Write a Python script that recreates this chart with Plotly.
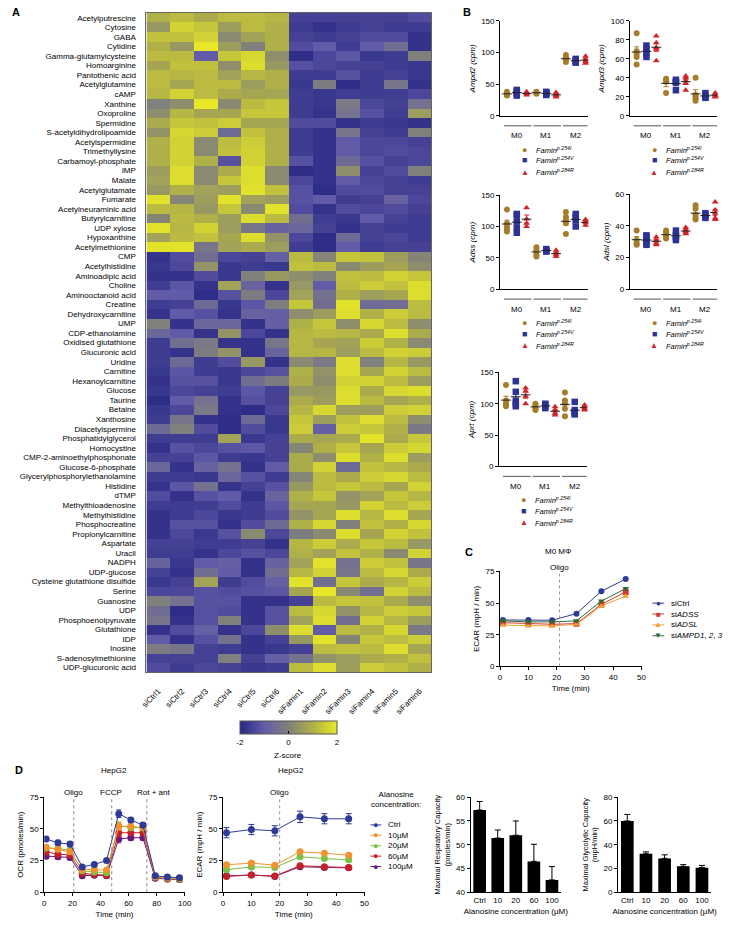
import numpy as np
import plotly.graph_objects as go

W, H = 734, 925
FONT = "Liberation Sans, Arial, sans-serif"


def px(x):
    return x / W


def py(y):
    return 1 - y / H


# ---------------- Panel A data ----------------
metabolites = [
    "Acetylputrescine", "Cytosine", "GABA", "Cytidine", "Gamma-glutamylcysteine",
    "Homoarginine", "Pantothenic acid", "Acetylglutamine", "cAMP", "Xanthine",
    "Oxoproline", "Spermidine", "S-acetyldihydrolipoamide", "Acetylspermidine",
    "Trimethyllysine", "Carbamoyl-phosphate", "IMP", "Malate", "Acetylglutamate",
    "Fumarate", "Acetylneuraminic acid", "Butyrylcarnitine", "UDP xylose",
    "Hypoxanthine", "Acetylmethionine", "CMP", "Acetylhistidine", "Aminoadipic acid",
    "Choline", "Aminooctanoid acid", "Creatine", "Dehydroxycarnitine", "UMP",
    "CDP-ethanolamine", "Oxidised glutathione", "Glucuronic acid", "Uridine",
    "Carnitine", "Hexanoylcarnitine", "Glucose", "Taurine", "Betaine", "Xanthosine",
    "Diacetylspermine", "Phosphatidylglycerol", "Homocystine",
    "CMP-2-aminoethylphosphonate", "Glucose-6-phosphate",
    "Glycerylphosphorylethanolamine", "Histidine", "dTMP", "Methylthioadenosine",
    "Methylhistidine", "Phosphocreatine", "Propionylcarnitine", "Aspartate", "Uracil",
    "NADPH", "UDP-glucose", "Cysteine glutathione disulfide", "Serine", "Guanosine",
    "UDP", "Phosphoenolpyruvate", "Glutathione", "IDP", "Inosine",
    "S-adenosylmethionine", "UDP-glucuronic acid",
]
samples = ["siCtrl1", "siCtrl2", "siCtrl3", "siCtrl4", "siCtrl5", "siCtrl6",
           "siFamin1", "siFamin2", "siFamin3", "siFamin4", "siFamin5", "siFamin6"]

z_ctrl = [
    [1.0, 1.2, 0.9, 1.2, 1.2, 1.1], [0.5, 1.6, 1.4, 0.6, 1.2, 1.0],
    [1.3, 1.3, 1.6, 0.2, 0.7, 1.0], [1.0, 0.5, 2.0, 0.6, 0.0, 1.0],
    [1.2, 1.2, -1.0, 1.4, 1.7, 0.3], [0.8, 1.3, 1.3, 0.3, 1.8, 0.5],
    [1.2, 1.1, 1.2, 0.7, 1.1, 1.0], [1.2, 0.8, 1.2, 1.2, 0.6, 1.0],
    [1.1, 1.6, 1.2, 0.9, 0.8, 0.8], [0.0, 0.3, 2.0, 0.2, 1.2, 1.4],
    [0.3, 1.1, 0.8, 0.8, 1.4, 1.4], [0.9, 1.4, 1.3, 1.5, 0.8, 0.8],
    [0.4, 1.7, 1.5, -0.6, 1.3, 1.0], [1.0, 1.6, 0.2, 1.2, 1.5, 1.0],
    [1.0, 1.6, 0.2, 1.3, 1.6, 1.0], [1.0, 1.6, 1.0, -1.2, 1.6, 1.0],
    [0.6, 1.8, 0.2, 0.9, 1.8, 0.2], [0.7, 1.8, 0.2, 1.4, 1.8, 0.2],
    [0.5, 1.0, 0.7, 0.6, 1.9, 1.3], [1.9, 0.1, 0.6, 1.9, 0.7, 0.6],
    [1.2, 1.1, 0.5, 1.4, 0.2, 1.9], [0.1, 1.2, 1.0, 0.6, 1.8, 1.2],
    [1.9, 1.1, 1.6, 0.6, -0.3, -0.8], [0.7, 1.2, 1.3, 0.8, 1.8, 0.4],
    [1.9, 1.9, -0.3, 0.7, 0.9, 0.6],
    [-1.8, -1.3, -0.5, -1.4, -1.5, -0.9], [-1.7, -1.4, 0.4, -1.7, -1.6, -1.7],
    [-1.8, -1.8, -1.3, -1.7, 0.0, 0.5], [-1.6, -1.1, -1.8, 0.7, -0.8, -1.8],
    [-1.0, -1.0, -1.9, -1.2, -0.1, -1.4], [-1.6, -1.5, -0.6, -1.7, -1.1, -0.1],
    [-1.8, -1.0, -1.2, -1.8, -0.8, -0.9], [0.0, -1.8, -0.7, -0.7, -1.8, -0.9],
    [-0.7, -1.0, -1.8, 0.4, -1.4, -1.8], [-1.6, -0.5, -0.2, -1.8, -1.8, -0.3],
    [-1.6, -1.8, -0.1, 0.4, -1.8, -0.8], [-1.6, -0.6, -1.6, -1.3, 0.5, -1.8],
    [-1.7, -1.1, -1.6, -1.7, -1.4, -1.2], [-1.8, -1.2, -1.2, -1.7, -0.5, -0.1],
    [-1.7, -1.4, -1.5, -1.6, -1.1, -1.5], [-1.9, -1.0, -0.4, -1.8, -1.2, -1.5],
    [-1.7, -1.4, -0.2, -1.8, -1.9, -1.4], [-1.6, -0.3, -1.8, -1.9, -0.6, -1.7],
    [-0.6, 0.0, -1.3, -1.9, -1.3, -1.7], [-1.6, -1.6, -1.6, 0.7, -1.7, -1.5],
    [-1.8, -1.2, -1.4, -1.2, -1.1, -1.5], [-1.5, -1.5, -1.1, -1.6, -1.7, -1.5],
    [-0.7, -1.8, -0.8, -0.4, -1.8, -1.0], [-1.6, -1.6, -1.7, -0.7, -1.2, -1.6],
    [-1.8, -1.1, -0.4, -1.8, -1.5, -1.2], [-1.3, -1.8, -1.2, -1.0, -1.8, -0.8],
    [-1.6, -1.6, -1.6, -1.3, -1.6, -1.1], [-1.8, -1.6, -1.4, -1.7, -1.6, -1.3],
    [-1.8, -1.2, -1.2, -1.8, -1.3, -0.6], [-1.8, -1.4, -1.7, -1.2, 0.2, -1.4],
    [-1.5, -1.5, -1.6, -1.6, -1.5, -1.8], [-1.6, -1.6, -1.8, -1.4, -1.2, -1.4],
    [-0.8, -1.7, -1.0, -0.9, -1.8, -0.8], [-1.5, -1.8, -0.5, -1.0, -1.8, -0.5],
    [-1.7, -1.5, 0.7, -1.6, -1.3, -0.9], [-1.4, -1.4, -1.2, -1.3, -1.2, -1.1],
    [0.0, -0.4, -1.2, -1.2, -1.8, -1.8], [-0.5, -1.9, -1.2, -1.3, -1.8, -1.2],
    [-0.3, -1.8, -1.2, 0.0, -1.8, -1.2], [-1.8, -1.3, -0.9, -1.8, -1.4, 0.3],
    [-1.0, -1.8, -1.2, -0.4, -1.8, -1.5], [-0.1, -0.3, -1.5, -1.6, -1.8, -1.7],
    [-1.5, -1.5, -1.5, 0.0, -1.5, -0.9], [-1.3, -1.6, -1.4, -1.5, -1.7, -1.6],
]

z_famin = [
    [-1.5, -1.5, -1.5, -1.5, -1.5, -1.3], [-1.6, -1.8, -1.6, -1.5, -1.6, -1.6],
    [-1.5, -1.6, -1.5, -1.3, -1.3, -1.8], [-1.3, -1.0, -1.6, -1.0, -0.5, -1.8],
    [-1.9, -1.4, -1.1, -1.7, -1.6, 0.0], [-1.2, -1.4, -1.5, -1.5, -1.6, -1.7],
    [-1.6, -1.6, -1.2, -1.6, -1.5, -1.7], [-1.7, -0.1, -1.9, -1.6, -0.3, -1.8],
    [-1.6, -1.7, -1.6, -1.6, -1.6, -1.4], [-1.6, -1.7, -0.2, -1.4, -1.5, -0.4],
    [-1.6, -1.8, -0.4, -1.2, -1.6, 0.6], [-1.3, -1.3, -1.8, -1.6, -1.7, -1.8],
    [-1.6, -1.8, -0.3, -1.5, -1.6, 0.0], [-1.6, -1.8, -1.0, -1.4, -1.4, -1.5],
    [-1.6, -1.8, -1.0, -1.4, -1.3, -1.4], [-1.2, -1.8, -0.6, -1.2, -1.5, -1.4],
    [-1.9, -1.8, 0.3, -1.5, -1.3, 0.0], [-1.4, -1.8, -1.0, -1.4, -1.5, -1.6],
    [-1.2, -1.9, -1.3, -1.3, -1.5, -1.5], [-1.2, -1.0, -1.6, -1.5, -0.8, -1.4],
    [-1.3, -1.8, -1.3, -1.4, -1.3, -1.5], [-0.5, -1.6, -1.7, -1.0, -1.5, -1.6],
    [-0.7, -1.5, -1.8, -1.5, -1.6, -1.6], [-1.4, -1.9, -0.6, -1.5, -1.4, -1.6],
    [-1.6, -1.9, -1.0, -1.6, -1.5, -1.5],
    [1.2, 0.1, 1.4, 1.3, 0.6, 0.1], [1.3, 1.2, 0.2, 0.6, 0.8, 0.3],
    [0.3, 0.0, 1.3, 1.2, 1.6, 1.4], [0.5, -1.0, 1.2, 1.5, 1.3, 1.8],
    [0.7, -0.4, 1.0, 0.6, 0.8, 1.8], [1.4, -0.5, 1.9, -0.6, -0.5, 1.2],
    [0.3, 0.6, 1.8, 1.0, 1.5, 1.2], [1.0, 1.4, 0.3, 1.7, 1.2, 0.3],
    [1.1, 1.2, 1.1, 0.9, 1.8, 0.9], [1.1, 0.8, 0.7, 1.5, 1.0, 0.2],
    [1.1, 1.1, 0.6, 1.2, 1.6, 1.5], [0.2, -0.2, 1.8, 0.0, 1.1, 0.5],
    [1.0, 0.4, 1.8, 0.8, 1.6, 1.2], [0.9, 0.3, 1.6, 1.6, 1.2, 0.6],
    [0.5, 0.5, 1.8, 0.9, 1.7, 1.8], [0.9, 0.6, 1.8, 1.2, 0.8, 1.0],
    [1.1, 1.7, 0.6, 0.6, 1.5, 1.6], [1.4, 0.6, 1.3, 1.8, 1.2, 0.3],
    [1.5, -0.9, 1.5, 1.4, 1.0, -0.2], [0.9, 0.8, 0.9, 1.9, 0.9, 1.4],
    [0.1, 1.0, 1.4, 0.8, 1.5, 1.7], [0.9, 0.3, 1.8, 1.0, 1.8, 0.6],
    [0.9, 1.6, -0.6, 1.3, 1.1, 0.9], [0.1, 1.2, 0.9, 1.5, 1.7, 1.2],
    [0.5, 1.2, 1.4, 1.2, 0.8, 1.6], [1.0, 1.4, 0.4, 0.7, 1.4, 1.1],
    [0.8, 0.8, 0.5, 1.6, 1.2, 1.5], [0.4, 0.8, 1.8, 1.1, 1.8, 0.8],
    [1.0, 1.7, 0.0, 1.3, 1.0, 1.7], [-0.1, 0.2, 1.8, 0.8, 1.6, 1.3],
    [1.1, 1.5, 0.9, 1.4, 1.2, 0.5], [1.0, 0.7, 1.3, 1.0, 0.2, 1.6],
    [0.7, 1.9, -0.4, 1.5, 1.3, -0.3], [1.1, 1.6, -0.3, 1.2, 1.7, 0.9],
    [1.9, -0.5, 1.4, 0.9, 1.1, 1.5], [0.8, 2.0, 0.2, -0.5, 1.6, 1.2],
    [-1.5, 1.2, 1.4, 1.3, 0.9, 0.3], [1.2, 1.7, 0.4, 1.1, 1.5, 1.4],
    [0.7, 1.8, -0.5, 1.6, 1.1, 0.6], [1.8, -1.0, 1.2, 1.0, 1.7, -0.2],
    [0.5, 1.9, 0.1, 1.4, 1.2, 1.5], [-1.5, 1.2, 1.3, 1.2, 1.8, 0.8],
    [-0.4, 0.4, 0.6, 0.9, 1.0, 1.3], [1.2, 1.8, 0.6, 1.5, 1.3, 1.0],
]

# ---------------- Panel B data (cpm; per group M0, M1, M2) ----------------
groups = ["M0", "M1", "M2"]
genotype_labels = ["p.254I", "p.254V", "p.284R"]

ampd2_254I = [[38, 36, 35, 33, 32], [38, 37, 36, 35], [96, 92, 90, 88, 85]]
ampd2_254V = [[41, 39, 37, 35, 32], [38, 36, 35, 33], [90, 88, 86, 84]]
ampd2_284R = [[38, 36, 35, 33], [37, 34, 32, 30], [94, 89, 86, 83]]

ampd3_254I = [[87, 68, 65, 62, 54], [39, 38, 36, 24], [40, 22, 20, 18, 16]]
ampd3_254V = [[74, 70, 66, 62], [38, 36, 35, 27], [24, 21, 20, 19]]
ampd3_284R = [[84, 77, 72, 70, 58], [42, 40, 37, 34, 27], [24, 22, 21, 20]]

adss_254I = [[127, 105, 100, 96, 92], [67, 63, 60, 55, 52], [123, 115, 110, 105, 88]]
adss_254V = [[120, 118, 108, 98, 90], [64, 62, 61, 60], [120, 115, 110, 100]]
adss_284R = [[130, 112, 105, 100], [62, 58, 55, 52], [111, 108, 106, 102]]

adsl_254I = [[37, 31, 29, 28], [37, 36, 34, 33, 32], [53, 51, 47, 45, 44]]
adsl_254V = [[34, 33, 31, 29, 28], [37, 34, 33, 31], [48, 47, 46, 45]]
adsl_284R = [[33, 31, 29, 28], [39, 37, 36, 35], [55, 50, 48, 45, 44]]

aprt_254I = [[130, 105, 100, 98, 96], [100, 98, 95, 92, 90], [118, 105, 100, 92, 80]]
aprt_254V = [[136, 119, 105, 100, 96], [100, 98, 95, 93], [103, 90, 87, 85, 83]]
aprt_284R = [[125, 120, 112, 100], [95, 90, 85, 82], [98, 95, 92, 90]]

# ---------------- Panel C data ----------------
time_c = [1.0, 10.0, 18.4, 27.0, 35.8, 44.4]
c_siCtrl = [36.7, 36.7, 36.5, 41.7, 59.4, 69.0]
c_siADSS = [34.6, 33.8, 33.3, 33.8, 49.0, 58.8]
c_siADSL = [32.6, 32.0, 32.0, 33.3, 47.7, 55.5]
c_siAMPD = [36.0, 35.2, 35.2, 36.0, 51.6, 61.5]

# ---------------- Panel D data ----------------
conc_names = ["Ctrl", "10µM", "20µM", "60µM", "100µM"]
time_ocr = [1.3, 9.7, 18.3, 27.0, 35.6, 44.3, 53.0, 61.6, 70.2, 79.0, 87.6, 96.2]
ocr_ctrl = [42, 39, 38, 20, 22, 25, 62, 57, 53, 13, 12, 11.5]
ocr_10 = [35.5, 34, 32, 18, 18, 17.5, 52, 52, 51, 12.5, 11.5, 11]
ocr_20 = [35, 34.5, 33, 17, 16, 15.5, 52.5, 51, 51, 12, 11, 10.5]
ocr_60 = [32, 30, 29.5, 15, 14, 13.5, 47, 47, 47, 11.5, 10.5, 10]
ocr_100 = [28.5, 28, 27.5, 13, 13.5, 13, 42, 43, 43, 11, 10.5, 10]
ocr_err = [2, 2, 2, 1.5, 1.5, 1.5, 3, 2, 2, 1.5, 1.5, 1.5]

time_ecar = [1.2, 10.0, 18.3, 27.2, 35.8, 44.4]
ecar_ctrl = [47, 49.5, 48.5, 59.5, 58, 58]
ecar_ctrl_err = [4, 4, 4, 4.5, 4, 4]
ecar_10 = [21.7, 23, 21.4, 31.9, 30.8, 29.2]
ecar_20 = [17.8, 20, 19.6, 28, 26.6, 25.6]
ecar_60 = [12.5, 13.6, 12.8, 21, 20.1, 19.6]
ecar_100 = [13, 13.6, 12.5, 20.1, 19.6, 19.3]
ecar_err = [1, 1, 1, 1, 1, 1]

conc_labels = ["Ctrl", "10", "20", "60", "100"]
mrc_vals = [57.3, 51.4, 52.0, 46.5, 42.6]
mrc_err = [1.8, 1.7, 3.0, 3.6, 2.8]
mgc_vals = [60.0, 32.4, 28.5, 21.8, 20.7]
mgc_err = [5.5, 1.6, 3.0, 1.5, 1.9]

# ---------------- styles ----------------
BROWN = "#A67C2A"
NAVY = "#2D3296"
RED = "#D22328"
geno_colors = [BROWN, NAVY, RED]
geno_symbols = ["circle", "square", "triangle-up"]
geno_glyphs = ["●", "■", "▲"]

C_COLORS = ["#2E3A97", "#D03A2F", "#F0A030", "#2E6B35"]
C_SYMBOLS = ["circle", "square", "triangle-up", "triangle-down"]
C_GLYPHS = ["●", "■", "▲", "▼"]
D_COLORS = ["#2E3A97", "#F0922E", "#7AC043", "#C8202A", "#6A1B7A"]

fig = go.Figure()
annotations = []
shapes = []


def ax_style(**kw):
    base = dict(showline=True, linecolor="black", linewidth=1, ticks="outside",
                ticklen=3, tickwidth=1, tickcolor="black", showgrid=False,
                zeroline=False, fixedrange=True,
                tickfont=dict(size=8, family=FONT, color="black"),
                title=dict(font=dict(size=8, family=FONT, color="black")))
    for k, v in kw.items():
        if k == "title":
            base["title"] = dict(text=v, font=dict(size=8, family=FONT, color="black"),
                                 standoff=4)
        else:
            base[k] = v
    return base


def text(x, y, s, size=8, xanchor="center", yanchor="middle", color="black", **kw):
    annotations.append(dict(x=px(x), y=py(y), xref="paper", yref="paper", text=s,
                            showarrow=False, xanchor=xanchor, yanchor=yanchor,
                            font=dict(size=size, family=FONT, color=color), **kw))


def data_text(xref, x, y, s, size=8):
    annotations.append(dict(x=x, y=py(y), xref=xref, yref="paper", text=s,
                            showarrow=False, xanchor="center", yanchor="middle",
                            font=dict(size=size, family=FONT, color="black")))


layout = dict(width=W, height=H, margin=dict(l=0, r=0, t=0, b=0),
              paper_bgcolor="white", plot_bgcolor="white", showlegend=False,
              font=dict(family=FONT, size=8, color="black"))

# ---------------- Panel A: heatmap ----------------
Z = [rc + rf for rc, rf in zip(z_ctrl, z_famin)]
colorscale = [[0.0, "rgb(40,40,132)"], [0.25, "rgb(98,92,168)"],
              [0.5, "rgb(128,128,124)"], [0.75, "rgb(176,176,72)"],
              [1.0, "rgb(232,232,40)"]]
fig.add_trace(go.Heatmap(
    z=Z, x=samples, y=metabolites, colorscale=colorscale, zmin=-2, zmax=2,
    xaxis="x", yaxis="y", hoverinfo="skip",
    colorbar=dict(orientation="h", x=px(287.5), xanchor="center", y=py(724),
                  yanchor="top", len=97, lenmode="pixels", thickness=13,
                  thicknessmode="pixels", xpad=0, ypad=0, tickvals=[-2, 0, 2],
                  ticktext=["-2", "0", "2"], ticks="inside", ticklen=3,
                  tickcolor="black", outlinecolor="#555", outlinewidth=1,
                  tickfont=dict(size=8, family=FONT, color="black")),
))
for tx in [263.25, 311.75]:
    shapes.append(dict(type="line", xref="paper", yref="paper", x0=px(tx), x1=px(tx),
                       y0=py(724), y1=py(727.5), line=dict(color="black", width=1)))
text(287.5, 759, "Z-score", size=8)
layout["xaxis"] = dict(domain=[px(143), px(433)], anchor="y", tickangle=-45,
                       tickmode="linear", dtick=1,
                       tickfont=dict(size=8, family=FONT, color="black"),
                       showline=True, mirror=True, linecolor="#666", linewidth=1,
                       ticks="", ticklabelstandoff=10, fixedrange=True)
layout["yaxis"] = dict(domain=[py(675), py(9)], anchor="x", autorange="reversed",
                       tickmode="linear", dtick=1,
                       tickfont=dict(size=8, family=FONT, color="black"),
                       showline=True, mirror=True, linecolor="#666", linewidth=1,
                       ticks="", ticklabelstandoff=8, fixedrange=True)
text(4, 8, "<b>A</b>", size=11, xanchor="left")

# ---------------- Panel B: scatter dot plots ----------------
b_panels = [
    (2, "Ampd2", [ampd2_254I, ampd2_254V, ampd2_284R], 503, 592, 17, 113, 150, 50),
    (3, "Ampd3", [ampd3_254I, ampd3_254V, ampd3_284R], 635, 724, 17, 113, 100, 20),
    (4, "Adss", [adss_254I, adss_254V, adss_284R], 503, 592, 193, 288, 150, 50),
    (5, "Adsl", [adsl_254I, adsl_254V, adsl_284R], 635, 724, 192, 288, 60, 20),
    (6, "Aprt", [aprt_254I, aprt_254V, aprt_284R], 502, 591, 372, 467, 150, 50),
]
for n, gene, series, x0, x1, ytop, ybot, ymax, dtick in b_panels:
    xa, ya = f"x{n}", f"y{n}"
    for k, geno in enumerate(series):
        xs, ys = [], []
        mx, my, mean_pos, mean_val, sem_val = [], [], [], [], []
        for g, pts in enumerate(geno):
            pos = g * 3 + k
            xs += [pos] * len(pts)
            ys += pts
            m = float(np.mean(pts))
            s = float(np.std(pts, ddof=1) / np.sqrt(len(pts)))
            mean_pos.append(pos)
            mean_val.append(m)
            sem_val.append(s)
            mx += [pos - 0.5, pos + 0.5, None]
            my += [m, m, None]
        fig.add_trace(go.Scatter(x=xs, y=ys, mode="markers", xaxis=xa, yaxis=ya,
                                 marker=dict(color=geno_colors[k], symbol=geno_symbols[k],
                                             size=6 if k != 1 else 6.5, line=dict(width=0)),
                                 cliponaxis=False, hoverinfo="skip"))
        fig.add_trace(go.Scatter(x=mean_pos, y=mean_val, mode="markers", xaxis=xa,
                                 yaxis=ya, marker=dict(size=2, opacity=0),
                                 error_y=dict(type="data", array=sem_val,
                                              color=geno_colors[k], thickness=1, width=2.5),
                                 hoverinfo="skip"))
        fig.add_trace(go.Scatter(x=mx, y=my, mode="lines", xaxis=xa, yaxis=ya,
                                 line=dict(color="#222", width=1), hoverinfo="skip"))
    layout[f"xaxis{n}"] = ax_style(domain=[px(x0), px(x1)], anchor=ya, range=[-0.7, 8.2],
                                   showticklabels=False, ticks="")
    layout[f"yaxis{n}"] = ax_style(domain=[py(ybot), py(ytop)], anchor=xa,
                                   range=[0, ymax], dtick=dtick,
                                   title=f"<i>{gene} (cpm)</i>")
    for g, gname in enumerate(groups):
        shapes.append(dict(type="line", xref=xa, yref="paper", x0=g * 3 - 0.3,
                           x1=g * 3 + 2.5, y0=py(ybot + 10), y1=py(ybot + 10),
                           line=dict(color="#555", width=1)))
        data_text(xa, g * 3 + 1, ybot + 20, gname)
    for k, lab in enumerate(genotype_labels):
        yy = ybot + [34, 45, 57][k]
        text(x0 + 25, yy, geno_glyphs[k], size=8 if k == 2 else 9, color=geno_colors[k])
        text(x0 + 35, yy, f"<i>Famin<sup>{lab}</sup></i>", size=7.5, xanchor="left")
text(463, 8, "<b>B</b>", size=11, xanchor="left")

# ---------------- Panel C ----------------
c_series = [("siCtrl", c_siCtrl), ("si<i>ADSS</i>", c_siADSS),
            ("si<i>ADSL</i>", c_siADSL), ("si<i>AMPD1</i>, <i>2</i>, <i>3</i>", c_siAMPD)]
for i, (name, vals) in enumerate(c_series):
    fig.add_trace(go.Scatter(x=time_c, y=vals, mode="lines+markers", xaxis="x7",
                             yaxis="y7", line=dict(color=C_COLORS[i], width=1),
                             marker=dict(color=C_COLORS[i], symbol=C_SYMBOLS[i], size=6),
                             hoverinfo="skip"))
    ly = [605, 616, 627, 638][i]
    shapes.append(dict(type="line", xref="paper", yref="paper", x0=px(658), x1=px(670),
                       y0=py(ly), y1=py(ly), line=dict(color=C_COLORS[i], width=1)))
    text(664, ly, C_GLYPHS[i], size=8, color=C_COLORS[i])
    text(675, ly, name, size=8, xanchor="left")
layout["xaxis7"] = ax_style(domain=[px(503), px(647)], anchor="y7", range=[0, 50],
                            dtick=10, title="Time (min)")
layout["yaxis7"] = ax_style(domain=[py(669), py(573)], anchor="x7", range=[0, 75],
                            dtick=25, title="ECAR (mpH / min)")
shapes.append(dict(type="line", xref="x7", yref="y7", x0=21, x1=21, y0=0, y1=75,
                   line=dict(color="#999", width=1, dash="dot")))
data_text("x7", 21, 569, "Oligo")
text(562, 553, "M0 MΦ", size=8)
text(465, 553, "<b>C</b>", size=11, xanchor="left")

# ---------------- Panel D ----------------
ocr_series = [ocr_ctrl, ocr_10, ocr_20, ocr_60, ocr_100]
ecar_series = [ecar_ctrl, ecar_10, ecar_20, ecar_60, ecar_100]
for i in range(4, -1, -1):
    fig.add_trace(go.Scatter(x=time_ocr, y=ocr_series[i], mode="lines+markers",
                             xaxis="x8", yaxis="y8",
                             line=dict(color=D_COLORS[i], width=1),
                             marker=dict(color=D_COLORS[i], size=7),
                             error_y=dict(type="data", array=ocr_err, color=D_COLORS[i],
                                          thickness=1, width=2.5),
                             hoverinfo="skip"))
    err = ecar_ctrl_err if i == 0 else ecar_err
    fig.add_trace(go.Scatter(x=time_ecar, y=ecar_series[i], mode="lines+markers",
                             xaxis="x9", yaxis="y9",
                             line=dict(color=D_COLORS[i], width=1),
                             marker=dict(color=D_COLORS[i], size=7),
                             error_y=dict(type="data", array=err, color=D_COLORS[i],
                                          thickness=1, width=3),
                             hoverinfo="skip"))
layout["xaxis8"] = ax_style(domain=[px(39), px(182)], anchor="y8", range=[0, 100],
                            dtick=20, title="Time (min)")
layout["yaxis8"] = ax_style(domain=[py(897), py(801)], anchor="x8", range=[0, 75],
                            dtick=25, title="OCR (pmoles/min)")
layout["xaxis9"] = ax_style(domain=[px(221), px(365)], anchor="y9", range=[0, 50],
                            dtick=10, title="Time (min)")
layout["yaxis9"] = ax_style(domain=[py(897), py(801)], anchor="x9", range=[0, 75],
                            dtick=25, title="ECAR (mpH / min)")
for xv, lab, lx in [(21, "Oligo", 21), (48, "FCCP", 47.5), (73, "Rot + ant", 78)]:
    shapes.append(dict(type="line", xref="x8", yref="y8", x0=xv, x1=xv, y0=0, y1=75,
                       line=dict(color="#888", width=1, dash="dot")))
    data_text("x8", lx, 796, lab)
shapes.append(dict(type="line", xref="x9", yref="y9", x0=20, x1=20, y0=0, y1=75,
                   line=dict(color="#999", width=1, dash="dot")))
data_text("x9", 20, 796, "Oligo")
text(110, 774, "HepG2", size=8)
text(290, 774, "HepG2", size=8)
text(7, 774, "<b>D</b>", size=11, xanchor="left")

# D legend
text(370, 803, "Alanosine<br>concentration:", size=8, xanchor="left")
for i, name in enumerate(conc_names):
    ly = [829, 839.5, 850, 860.5, 871][i]
    shapes.append(dict(type="line", xref="paper", yref="paper", x0=px(371), x1=px(382),
                       y0=py(ly), y1=py(ly), line=dict(color=D_COLORS[i], width=1)))
    text(376.5, ly, "●", size=9, color=D_COLORS[i])
    text(387, ly, name, size=8, xanchor="left")

# D bar charts
fig.add_trace(go.Bar(x=conc_labels, y=mrc_vals, xaxis="x10", yaxis="y10",
                     marker=dict(color="black", line=dict(width=0)), width=0.7,
                     error_y=dict(type="data", symmetric=False, array=mrc_err,
                                  arrayminus=[0] * len(mrc_err), color="black",
                                  thickness=1, width=3),
                     hoverinfo="skip"))
fig.add_trace(go.Bar(x=conc_labels, y=mgc_vals, xaxis="x11", yaxis="y11",
                     marker=dict(color="black", line=dict(width=0)), width=0.68,
                     error_y=dict(type="data", symmetric=False, array=mgc_err,
                                  arrayminus=[0] * len(mgc_err), color="black",
                                  thickness=1, width=3),
                     hoverinfo="skip"))
layout["xaxis10"] = ax_style(domain=[px(473), px(565)], anchor="y10",
                             range=[-0.5, 4.5], ticks="",
                             title="Alanosine concentration (µM)")
layout["yaxis10"] = ax_style(domain=[py(897), py(801)], anchor="x10", range=[40, 60],
                             dtick=5, title="Maximal Respiratory Capacity<br>(pmoles/min)")
layout["xaxis11"] = ax_style(domain=[px(623), px(718)], anchor="y11",
                             range=[-0.5, 4.5], ticks="",
                             title="Alanosine concentration (µM)")
layout["yaxis11"] = ax_style(domain=[py(897), py(801)], anchor="x11", range=[0, 80],
                             dtick=20, title="Maximal Glycolytic Capacity<br>(mpH/min)")
layout["yaxis10"]["title"]["font"]["size"] = 7.5
layout["yaxis11"]["title"]["font"]["size"] = 7.5

layout["annotations"] = annotations
layout["shapes"] = shapes
fig.update_layout(**layout)
fig.write_html("out.html",
               config={"displayModeBar": False, "staticPlot": True},
               post_script="document.body.style.margin='0';"
                           "document.body.style.overflow='hidden';")
